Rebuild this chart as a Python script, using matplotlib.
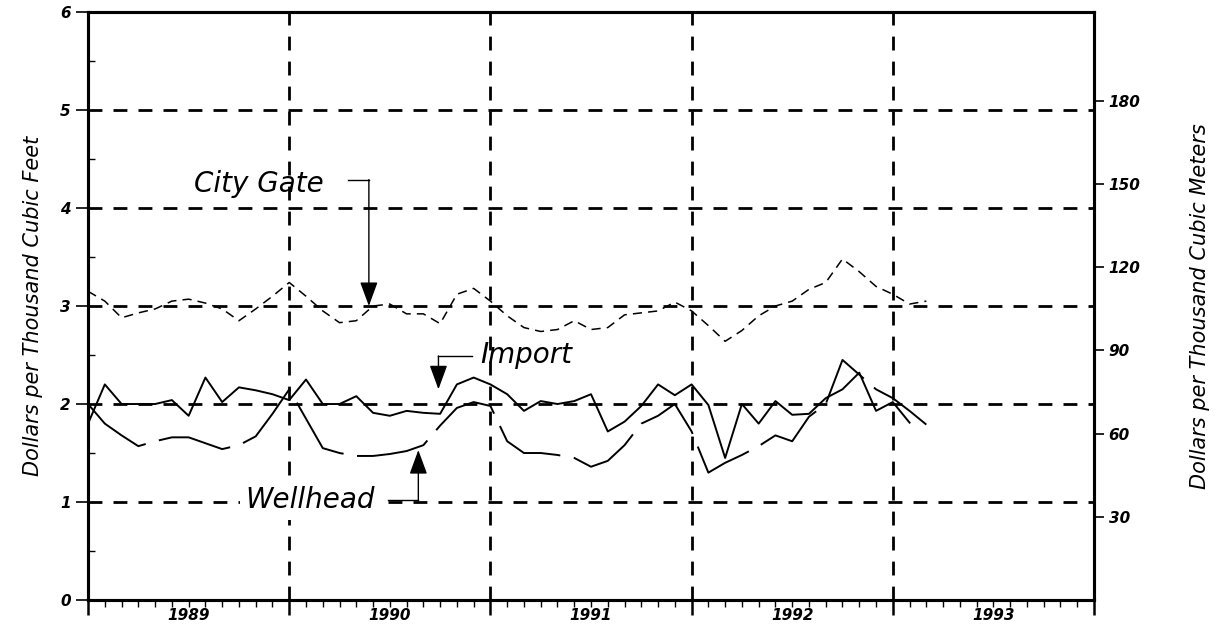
import numpy as np
import matplotlib.pyplot as plt
import matplotlib.ticker as ticker

# monthly prices, Jan 1989 onward (dollars per thousand cubic feet)
city_gate = [3.15, 3.05, 2.88, 2.93, 2.97, 3.05, 3.07, 3.03, 2.97, 2.85,
             2.97, 3.10, 3.24, 3.10, 2.95, 2.83, 2.85, 3.00, 3.02, 2.92,
             2.92, 2.82, 3.12, 3.18, 3.05, 2.90, 2.78, 2.74, 2.76, 2.85,
             2.76, 2.78, 2.91, 2.93, 2.95, 3.04, 2.95, 2.80, 2.64, 2.75,
             2.90, 3.00, 3.05, 3.17, 3.24, 3.48, 3.35, 3.20, 3.12, 3.02,
             3.05]
import_price = [1.80, 2.20, 2.00, 2.00, 2.00, 2.04, 1.88, 2.27, 2.02, 2.17,
                2.14, 2.10, 2.04, 2.25, 2.00, 2.00, 2.08, 1.91, 1.88, 1.93,
                1.91, 1.90, 2.20, 2.27, 2.20, 2.10, 1.93, 2.03, 2.00, 2.03,
                2.10, 1.72, 1.82, 1.98, 2.20, 2.09, 2.20, 1.99, 1.45, 2.00,
                1.80, 2.03, 1.89, 1.90, 2.06, 2.15, 2.32, 1.93, 2.02, 1.81]
wellhead = [2.00, 1.80, 1.68, 1.57, 1.62, 1.66, 1.66, 1.60, 1.54, 1.58,
            1.67, 1.90, 2.15, 1.85, 1.55, 1.50, 1.47, 1.47, 1.49, 1.52,
            1.58, 1.78, 1.96, 2.02, 1.98, 1.62, 1.50, 1.50, 1.48, 1.45,
            1.36, 1.42, 1.58, 1.80, 1.88, 2.00, 1.72, 1.30, 1.40, 1.48,
            1.57, 1.68, 1.62, 1.87, 2.00, 2.45, 2.30, 2.15, 2.06, 1.93,
            1.79]
years = ["1989", "1990", "1991", "1992", "1993"]
CF_TO_M3 = 35.315

fs = "DejaVu Sans"
fig = plt.figure(figsize=(12.23, 6.32), dpi=100)
ax = fig.add_axes([0.072, 0.0506, 0.8225, 0.9304])

ax.plot(range(len(city_gate)), city_gate, color="black", lw=1.1,
        dashes=(6, 4))
ax.plot(range(len(import_price)), import_price, color="black", lw=1.4)
ax.plot(range(len(wellhead)), wellhead, color="black", lw=1.4,
        dashes=(38, 7))

# grid
for v in range(1, 6):
    ax.axhline(v, color="black", lw=2.0, dashes=(5, 4))
for m in (12, 24, 36, 48):
    ax.axvline(m, color="black", lw=2.0, dashes=(5, 4))

ax.set_xlim(0, 60)
ax.set_ylim(0, 6)
for s in ax.spines.values():
    s.set_linewidth(2.2)

ax.xaxis.set_major_locator(ticker.MultipleLocator(12))
ax.xaxis.set_minor_locator(ticker.MultipleLocator(1))
ax.tick_params(axis="x", which="major", direction="out", length=11,
               width=1.8, labelbottom=False)
ax.tick_params(axis="x", which="minor", direction="out", length=5, width=1)
for i, y in enumerate(years):
    ax.text(6 + 12 * i, -0.013, y, transform=ax.get_xaxis_transform(),
            ha="center", va="top", fontsize=11, fontweight="bold",
            style="italic", family=fs)

ax.yaxis.set_major_locator(ticker.MultipleLocator(1))
ax.yaxis.set_minor_locator(ticker.MultipleLocator(0.5))
ax.tick_params(axis="y", which="major", direction="out", length=9, width=1.2)
ax.tick_params(axis="y", which="minor", direction="in", length=5, width=1)
for lab in ax.get_yticklabels():
    lab.set_fontweight("bold")
    lab.set_fontstyle("italic")
    lab.set_fontsize(11)
ax.set_ylabel("Dollars per Thousand Cubic Feet", fontsize=15, style="italic",
              family=fs, labelpad=12)

ax2 = ax.twinx()
ax2.set_ylim(0, 6 * CF_TO_M3)
ax2.set_yticks([30, 60, 90, 120, 150, 180])
ax2.tick_params(axis="y", direction="out", length=7, width=1.2)
for lab in ax2.get_yticklabels():
    lab.set_fontweight("bold")
    lab.set_fontstyle("italic")
    lab.set_fontsize(11)
for s in ax2.spines.values():
    s.set_linewidth(2.2)
ax2.set_ylabel("Dollars per Thousand Cubic Meters", fontsize=15,
               style="italic", family=fs, labelpad=36)

# labels with elbow arrows
arrow = dict(arrowstyle="-|>,head_length=1.5,head_width=0.55", color="black",
             lw=1.0, shrinkA=0, shrinkB=0)
ax.text(6.3, 4.24, "City Gate", fontsize=20, style="italic", family=fs,
        va="center", ha="left")
ax.plot([15.5, 16.75], [4.29, 4.29], color="black", lw=1.0)
ax.annotate("", xy=(16.75, 3.0), xytext=(16.75, 4.29), arrowprops=arrow)

ax.text(23.4, 2.5, "Import", fontsize=20, style="italic", family=fs,
        va="center", ha="left")
ax.plot([20.9, 22.9], [2.49, 2.49], color="black", lw=1.0)
ax.annotate("", xy=(20.9, 2.15), xytext=(20.9, 2.49), arrowprops=arrow)

ax.text(9.4, 1.02, "Wellhead", fontsize=20, style="italic", family=fs,
        va="center", ha="left", zorder=5,
        bbox=dict(facecolor="white", edgecolor="none", pad=4))
ax.plot([17.9, 19.7], [1.02, 1.02], color="black", lw=1.0, zorder=6)
ax.annotate("", xy=(19.7, 1.53), xytext=(19.7, 1.02), arrowprops=arrow)

fig.savefig("out.png", dpi=100)
